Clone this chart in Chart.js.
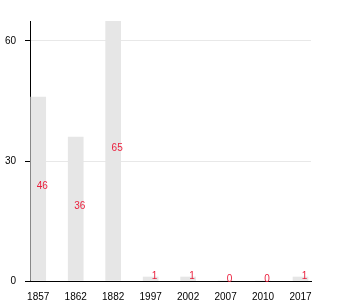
<!DOCTYPE html>
<html>
<head>
<meta charset="utf-8">
<script src="https://cdn.jsdelivr.net/npm/chart.js@4/dist/chart.umd.min.js"></script>
<style>
  html, body { margin: 0; padding: 0; background: #fff; }
  canvas { display: block; }
</style>
</head>
<body>
<canvas id="c" width="350" height="300"></canvas>
<script>
const categories = ['1857', '1862', '1882', '1997', '2002', '2007', '2010', '2017'];
const values = [46, 36, 65, 1, 1, 0, 0, 1];
const yTickValues = [0, 30, 60];

const FONT = '"Liberation Sans", Arial, sans-serif';

const valueLabels = {
  id: 'valueLabels',
  afterDatasetsDraw(chart) {
    const ctx = chart.ctx;
    const meta = chart.getDatasetMeta(0);
    ctx.save();
    ctx.font = '10px ' + FONT;
    ctx.fillStyle = 'rgb(235,30,60)';
    ctx.textAlign = 'center';
    ctx.textBaseline = 'alphabetic';
    meta.data.forEach((bar, i) => {
      ctx.fillText(String(values[i]), bar.x + 4, (bar.y + bar.base) / 2 + 0.5);
    });
    ctx.restore();
  }
};

new Chart(document.getElementById('c'), {
  type: 'bar',
  data: {
    datasets: [{
      data: values.map((v, i) => ({ x: i, y: v })),
      backgroundColor: '#e6e6e6',
      borderWidth: 0,
      barThickness: 15
    }]
  },
  options: {
    responsive: false,
    animation: false,
    layout: { padding: { top: 21, right: 39, left: 0, bottom: 0 } },
    plugins: { legend: { display: false }, tooltip: { enabled: false } },
    scales: {
      x: {
        type: 'linear',
        offset: false,
        min: -0.22,
        max: 7.28,
        afterBuildTicks: s => { s.ticks = categories.map((c, i) => ({ value: i })); },
        afterFit: s => { s.height = 19; },
        grid: { display: false, offset: false },
        border: { display: true, color: '#000', width: 1 },
        ticks: {
          autoSkip: false,
          maxRotation: 0,
          padding: 2,
          color: '#000',
          font: { family: FONT, size: 10 },
          callback: (v) => categories[v]
        }
      },
      y: {
        min: 0,
        max: 65,
        afterBuildTicks: s => { s.ticks = yTickValues.map(v => ({ value: v })); },
        afterFit: s => { s.width = 30; },
        grid: { color: '#e8e8e8', tickColor: '#000', tickLength: 5, lineWidth: 1 },
        border: { display: true, color: '#000', width: 1 },
        ticks: {
          padding: 9,
          color: '#000',
          font: { family: FONT, size: 10 }
        }
      }
    }
  },
  plugins: [valueLabels]
});
</script>
</body>
</html>
